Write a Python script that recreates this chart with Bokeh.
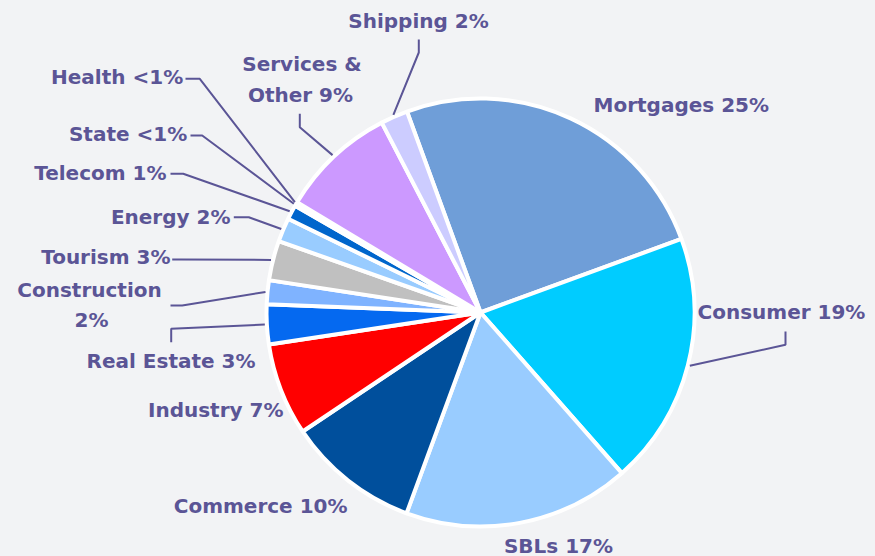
import math
from bokeh.plotting import figure
from bokeh.models import Range1d, ColumnDataSource
from bokeh.embed import file_html
from bokeh.resources import INLINE
from bokeh.core.properties import value

# ---------------- data ----------------
categories = ["Mortgages", "Consumer", "SBLs", "Commerce", "Industry", "Real Estate",
              "Construction", "Tourism", "Energy", "Telecom", "State", "Health",
              "Services & Other", "Shipping"]
shares = [25.0, 19.1, 17.1, 10.0, 7.0, 3.0, 1.8, 3.0, 1.8, 1.1, 0.15, 0.15, 8.75, 2.05]
pct_labels = ["25%", "19%", "17%", "10%", "7%", "3%", "2%", "3%", "2%", "1%",
              "<1%", "<1%", "9%", "2%"]
colors = ["#6F9ED8", "#00CCFF", "#99CCFF", "#004F9C", "#FF0000", "#0569F0",
          "#7FB3FF", "#C0C0C0", "#99CCFF", "#0066CC", "#336699", "#9999CC",
          "#CC99FF", "#CCCCFF"]

# ---------------- layout ----------------
W, H = 875, 556
BG = "#F2F3F5"
TXT = "#5B5596"
CX, CY, R = 480.0, 312.0, 214.0     # screen coords of pie centre
START = -20.1                       # clock angle (deg from 12 o'clock) of first slice
CAP_MID = 7.5                       # px from baseline to middle of capitals


def sy(y):
    return float(H) - y


# label lines: (x, baseline, align) in screen coords
label_layout = {
    "Mortgages": [(593, 112, "left")],
    "Consumer": [(697, 319, "left")],
    "SBLs": [(558, 552.5, "center")],
    "Commerce": [(347, 512.7, "right")],
    "Industry": [(283, 417.3, "right")],
    "Real Estate": [(255, 367.7, "right")],
    "Construction": [(89, 296.7, "center"), (91, 326.7, "center")],
    "Tourism": [(170, 264.3, "right")],
    "Energy": [(230, 224.3, "right")],
    "Telecom": [(166, 180, "right")],
    "State": [(186.7, 140.7, "right")],
    "Health": [(182.7, 84, "right")],
    "Services & Other": [(301.5, 70.7, "center"), (300, 101.7, "center")],
    "Shipping": [(418, 28, "center")],
}
leader_elbows = {
    "Shipping": [(418.3, 39), (418.3, 52)],
    "Services & Other": [(299.3, 113.3), (299.3, 126.7)],
    "Health": [(185, 78.3), (199.3, 78.3)],
    "State": [(190, 135), (201.7, 135)],
    "Telecom": [(170, 173.3), (182.7, 173.3)],
    "Energy": [(233.3, 216.7), (248.3, 216.7)],
    "Tourism": [(171.7, 259), (180, 259)],
    "Construction": [(170, 305), (181.7, 305)],
    "Real Estate": [(170.7, 341.7), (170.7, 328.3)],
    "Consumer": [(785, 331), (785, 344.3)],
}


def label_lines(cat, pct):
    if cat == "Construction":
        return [cat, pct]
    if cat == "Services & Other":
        return ["Services &", "Other " + pct]
    return [cat + " " + pct]


# ---------------- figure ----------------
p = figure(width=W, height=H, output_backend="svg", toolbar_location=None,
           x_range=Range1d(0, W), y_range=Range1d(0, H),
           x_axis_location=None, y_axis_location=None, min_border=0)
p.grid.visible = False
p.outline_line_color = None
p.background_fill_color = BG
p.border_fill_color = BG

total = sum(shares)
starts, ends, mids = [], [], []
acc = START
for s in shares:
    a0 = acc
    a1 = acc + s / total * 360.0
    starts.append(math.radians(90.0 - a0))
    ends.append(math.radians(90.0 - a1))
    mids.append((a0 + a1) / 2.0)
    acc = a1

src = ColumnDataSource(dict(x=[CX] * len(shares), y=[sy(CY)] * len(shares),
                            start=starts, end=ends, color=colors, cat=categories))
p.wedge(x="x", y="y", radius=R, start_angle="start", end_angle="end",
        direction="clock", fill_color="color", line_color="white", line_width=4,
        source=src)

# leaders
for cat, mid in zip(categories, mids):
    if cat not in leader_elbows:
        continue
    th = math.radians(mid)
    ex = CX + (R + 2) * math.sin(th)
    ey = CY - (R + 2) * math.cos(th)
    pts = leader_elbows[cat] + [(ex, ey)]
    p.line([q[0] for q in pts], [sy(q[1]) for q in pts], line_color=TXT, line_width=2)

# labels
tx, ty, tt, ta = [], [], [], []
for cat, pct in zip(categories, pct_labels):
    for text, (x, base, align) in zip(label_lines(cat, pct), label_layout[cat]):
        tx.append(x); ty.append(sy(base - CAP_MID)); tt.append(text); ta.append(align)
for align in ("left", "center", "right"):
    idx = [i for i, a in enumerate(ta) if a == align]
    if not idx:
        continue
    p.text(x=[tx[i] for i in idx], y=[ty[i] for i in idx], text=[tt[i] for i in idx],
           text_align=align, text_baseline="middle", text_color=TXT,
           text_font=value("DejaVu Sans"), text_font_style="bold", text_font_size="20px")

html = file_html(p, INLINE)
html = html.replace("</head>", "<style>body{background:%s;}</style></head>" % BG, 1)
open("out.html", "w").write(html)
